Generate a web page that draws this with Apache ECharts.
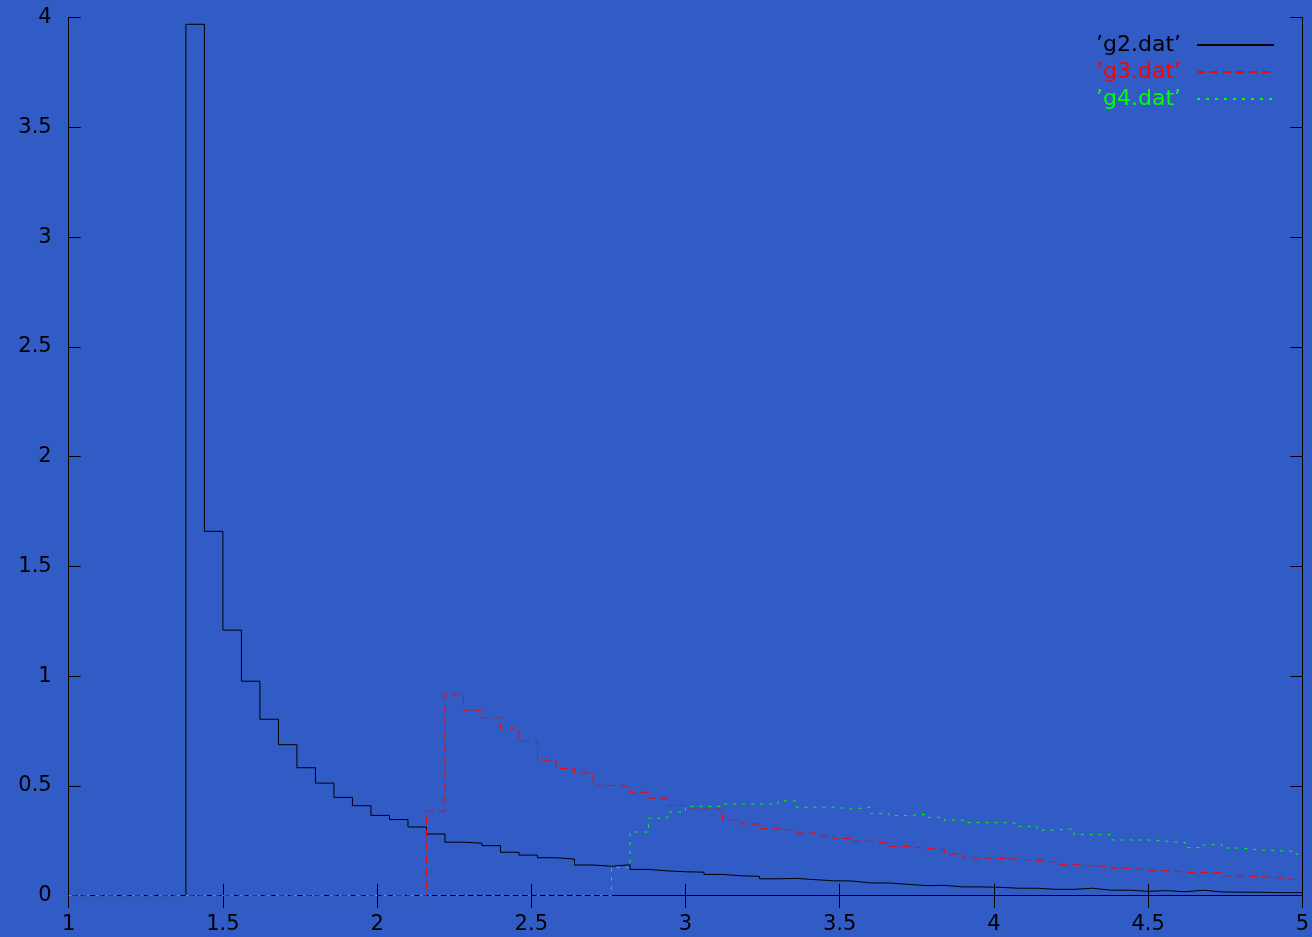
<!DOCTYPE html>
<html>
<head>
<meta charset="utf-8">
<script src="https://cdn.jsdelivr.net/npm/echarts@6/dist/echarts.min.js"></script>
<style>
html,body{margin:0;padding:0;background:#325CC5;}
#chart{width:1312px;height:937px;}
</style>
</head>
<body>
<div id="chart"></div>
<script>
// Histogram data: bin width and first bin left edge per series, values per bin
const binWidth = 0.06;
const xMin = 1, xMax = 5;
const seriesNames = ["\u2019g2.dat\u2019", "\u2019g3.dat\u2019", "\u2019g4.dat\u2019"];
const g2Start = 1.38;
const g2Values = [3.97, 1.66, 1.21, 0.977, 0.804, 0.688, 0.583, 0.513, 0.448, 0.410,
  0.366, 0.347, 0.313, 0.281, 0.244, 0.239, 0.228, 0.198, 0.185, 0.173,
  0.167, 0.140, 0.134, 0.141, 0.120, 0.113, 0.109, 0.107, 0.097, 0.091,
  0.088, 0.077, 0.079, 0.073, 0.068, 0.067, 0.058, 0.058, 0.052, 0.046,
  0.047, 0.040, 0.040, 0.038, 0.034, 0.034, 0.029, 0.029, 0.034, 0.025,
  0.025, 0.020, 0.023, 0.018, 0.025, 0.017, 0.016, 0.016, 0.014, 0.014, 0.014];
const g3Start = 2.16;
const g3Values = [0.385, 0.919, 0.845, 0.811, 0.764, 0.703, 0.617, 0.579, 0.559, 0.503,
  0.499, 0.471, 0.444, 0.411, 0.394, 0.394, 0.346, 0.327, 0.305, 0.299,
  0.286, 0.273, 0.261, 0.248, 0.239, 0.225, 0.216, 0.210, 0.190, 0.172,
  0.170, 0.167, 0.161, 0.154, 0.143, 0.135, 0.135, 0.125, 0.117, 0.114,
  0.107, 0.105, 0.105, 0.091, 0.087, 0.082, 0.073, 0.082];
const g4Start = 2.76;
const g4Values = [0.128, 0.290, 0.353, 0.381, 0.407, 0.407, 0.417, 0.417, 0.417, 0.432,
  0.403, 0.403, 0.395, 0.403, 0.375, 0.365, 0.371, 0.357, 0.344, 0.333,
  0.333, 0.330, 0.316, 0.299, 0.305, 0.278, 0.278, 0.254, 0.254, 0.248,
  0.242, 0.219, 0.232, 0.217, 0.208, 0.205, 0.202, 0.189];
const xTickInterval = 0.5;
const yMin = 0, yMax = 4, yTickInterval = 0.5;

function histPoints(start, values) {
  const pts = [[xMin, 0]];
  values.forEach((v, i) => {
    pts.push([Math.round((start + i * binWidth) * 1000) / 1000, v]);
  });
  pts.push([xMax, values[values.length - 1]]);
  return pts;
}

const FONT = 'DejaVu Sans';
const chart = echarts.init(document.getElementById('chart'), null, {renderer: 'canvas'});

const axisLine = {show: true, lineStyle: {color: '#000', width: 1}};
const axisTick = {show: true, inside: true, length: 12, lineStyle: {color: '#000', width: 1}};

chart.setOption({
  backgroundColor: '#325CC5',
  animation: false,
  grid: {left: 68.7, right: 5.3, top: 17.7, bottom: 41.3, containLabel: false},
  legend: {
    right: 37, top: 34, orient: 'vertical', align: 'right',
    itemWidth: 77, itemHeight: 14, itemGap: 5, padding: 0,
    itemStyle: {opacity: 0},
    textStyle: {fontFamily: FONT, fontSize: 22, lineHeight: 22, padding: [0, 11, 0, 0]},
    data: [
      {name: seriesNames[0], textStyle: {color: '#000000'}},
      {name: seriesNames[1], textStyle: {color: '#ff0000'}},
      {name: seriesNames[2], textStyle: {color: '#00ff00'}}
    ]
  },
  xAxis: [
    {type: 'value', min: xMin, max: xMax, interval: xTickInterval, position: 'bottom',
     axisLine, axisTick, splitLine: {show: false},
     axisLabel: {color: '#000', fontFamily: FONT, fontSize: 21, margin: 18, showMaxLabel: true, showMinLabel: true}},
    {type: 'value', min: xMin, max: xMax, interval: xTickInterval, position: 'top',
     axisLine, axisTick, splitLine: {show: false}, axisLabel: {show: false}}
  ],
  yAxis: [
    {type: 'value', min: yMin, max: yMax, interval: yTickInterval, position: 'left',
     axisLine, axisTick, splitLine: {show: false},
     axisLabel: {color: '#000', fontFamily: FONT, fontSize: 21, margin: 17}},
    {type: 'value', min: yMin, max: yMax, interval: yTickInterval, position: 'right',
     axisLine, axisTick, splitLine: {show: false}, axisLabel: {show: false}}
  ],
  series: [
    {name: seriesNames[0], type: 'line', step: 'end', symbol: 'none', showSymbol: false,
     xAxisIndex: 0, yAxisIndex: 0, color: '#000000',
     lineStyle: {color: '#000000', width: 1}, data: histPoints(g2Start, g2Values)},
    {name: seriesNames[1], type: 'line', step: 'end', symbol: 'none', showSymbol: false,
     xAxisIndex: 0, yAxisIndex: 0, color: '#ff0000',
     lineStyle: {color: '#ff0000', width: 1, type: [8, 5]}, data: histPoints(g3Start, g3Values)},
    {name: seriesNames[2], type: 'line', step: 'end', symbol: 'none', showSymbol: false,
     xAxisIndex: 0, yAxisIndex: 0, color: '#00ff00',
     lineStyle: {color: '#00ff00', width: 1, type: [3, 6]}, data: histPoints(g4Start, g4Values)}
  ]
});
</script>
</body>
</html>
